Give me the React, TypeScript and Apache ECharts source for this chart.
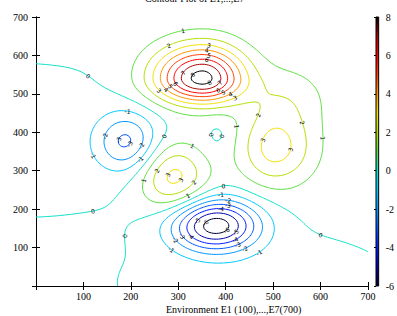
import { useEffect, useRef } from "react";
import * as echarts from "echarts";

// ---- axis / label data ----
const xTicks = [0, 100, 200, 300, 400, 500, 600, 700];
const yTicks = [0, 100, 200, 300, 400, 500, 600, 700];
const levels = [-6, -5, -4, -3, -2, -1, 0, 1, 2, 3, 4, 5, 6, 7, 8];
const colorbarTicks = [-6, -4, -2, 0, 2, 4, 6, 8];

// ---- colormap (value -> colour) ----
const cmapValues = [-6, -5, -4, -3, -2, -1, 0, 1, 2, 3, 4, 5, 6, 7, 8];
const cmapColors = [
  "#000030", "#0000a8", "#0018ff", "#0058ff", "#0094ff", "#00c8ff", "#10e0c8",
  "#5ce040", "#b4e000", "#f4e000", "#ff9400", "#ff3c00", "#ff0000", "#b00000", "#000000",
];

// ---- surface model: bumps (data units) ----
const baseLevel = 0.2;
const bumpX = [350, 503, 290, 191, 378, 530, -50, 500, 385];
const bumpY = [540, 357, 283, 375, 158, 490, 380, 0, 391];
const bumpAmp = [8.3, 3.2, 3.3, -3.1, -6.7, 1.3, -0.6, -0.65, -0.56];
const bumpSxL = [72, 53, 50, 45, 65, 60, 250, 210, 20];
const bumpSxR = [63, 60, 50, 45, 65, 60, 250, 170, 20];
const bumpSyB = [46, 68, 62, 54, 47, 60, 135, 90, 32];
const bumpSyT = [60, 68, 62, 54, 47, 60, 135, 90, 32];

const GRID_STEP = 5;

function field(x: number, y: number) {
  let v = baseLevel;
  for (let i = 0; i < bumpX.length; i++) {
    const dx = x - bumpX[i];
    const dy = y - bumpY[i];
    const sx = dx < 0 ? bumpSxL[i] : bumpSxR[i];
    const sy = dy < 0 ? bumpSyB[i] : bumpSyT[i];
    v += bumpAmp[i] * Math.exp(-0.5 * ((dx * dx) / (sx * sx) + (dy * dy) / (sy * sy)));
  }
  return v;
}

function hexToRgb(h: string) {
  const n = parseInt(h.slice(1), 16);
  return [(n >> 16) & 255, (n >> 8) & 255, n & 255];
}
function colorAt(v: number) {
  if (v <= cmapValues[0]) return cmapColors[0];
  for (let i = 0; i < cmapValues.length - 1; i++) {
    if (v <= cmapValues[i + 1]) {
      const t = (v - cmapValues[i]) / (cmapValues[i + 1] - cmapValues[i]);
      const a = hexToRgb(cmapColors[i]);
      const b = hexToRgb(cmapColors[i + 1]);
      const c = a.map((av, k) => Math.round(av + t * (b[k] - av)));
      return `rgb(${c[0]},${c[1]},${c[2]})`;
    }
  }
  return cmapColors[cmapColors.length - 1];
}

function contourLines(level: number) {
  const xmin = xTicks[0], xmax = xTicks[xTicks.length - 1];
  const ymin = yTicks[0], ymax = yTicks[yTicks.length - 1];
  const nx = Math.round((xmax - xmin) / GRID_STEP) + 1;
  const ny = Math.round((ymax - ymin) / GRID_STEP) + 1;
  const xs: number[] = [], ys: number[] = [];
  for (let i = 0; i < nx; i++) xs.push(xmin + i * GRID_STEP);
  for (let j = 0; j < ny; j++) ys.push(ymin + j * GRID_STEP);
  const g: number[][] = ys.map((y) => xs.map((x) => field(x, y)));
  const pts = new Map<string, [number, number]>();
  const segs: [string, string][] = [];
  const ep = (key: string, x1: number, y1: number, v1: number, x2: number, y2: number, v2: number) => {
    if (!pts.has(key)) {
      const t = (level - v1) / (v2 - v1);
      pts.set(key, [x1 + t * (x2 - x1), y1 + t * (y2 - y1)]);
    }
    return key;
  };
  for (let j = 0; j < ny - 1; j++) {
    for (let i = 0; i < nx - 1; i++) {
      const v0 = g[j][i], v1 = g[j][i + 1], v2 = g[j + 1][i + 1], v3 = g[j + 1][i];
      const idx = (v0 > level ? 1 : 0) | (v1 > level ? 2 : 0) | (v2 > level ? 4 : 0) | (v3 > level ? 8 : 0);
      if (idx === 0 || idx === 15) continue;
      const x0 = xs[i], x1 = xs[i + 1], y0 = ys[j], y1 = ys[j + 1];
      const B = () => ep(`h${i},${j}`, x0, y0, v0, x1, y0, v1);
      const R = () => ep(`v${i + 1},${j}`, x1, y0, v1, x1, y1, v2);
      const T = () => ep(`h${i},${j + 1}`, x0, y1, v3, x1, y1, v2);
      const L = () => ep(`v${i},${j}`, x0, y0, v0, x0, y1, v3);
      const center = (v0 + v1 + v2 + v3) / 4;
      switch (idx) {
        case 1: case 14: segs.push([L(), B()]); break;
        case 2: case 13: segs.push([B(), R()]); break;
        case 3: case 12: segs.push([L(), R()]); break;
        case 4: case 11: segs.push([R(), T()]); break;
        case 6: case 9: segs.push([B(), T()]); break;
        case 7: case 8: segs.push([L(), T()]); break;
        case 5:
          if (center > level) { segs.push([B(), R()]); segs.push([T(), L()]); }
          else { segs.push([L(), B()]); segs.push([R(), T()]); }
          break;
        case 10:
          if (center > level) { segs.push([L(), B()]); segs.push([R(), T()]); }
          else { segs.push([B(), R()]); segs.push([T(), L()]); }
          break;
      }
    }
  }
  const adj = new Map<string, number[]>();
  segs.forEach((s, k) => s.forEach((e) => { if (!adj.has(e)) adj.set(e, []); adj.get(e)!.push(k); }));
  const used = new Array(segs.length).fill(false);
  const follow = (start: string) => {
    const path = [start];
    let cur = start;
    for (;;) {
      const cand = (adj.get(cur) || []).find((s) => !used[s]);
      if (cand === undefined) break;
      used[cand] = true;
      const s = segs[cand];
      const nxt = s[0] === cur ? s[1] : s[0];
      path.push(nxt);
      cur = nxt;
    }
    return path.map((k) => pts.get(k)!);
  };
  const out: [number, number][][] = [];
  adj.forEach((arr, key) => { if (arr.length === 1 && !used[arr[0]]) out.push(follow(key)); });
  segs.forEach((s, k) => { if (!used[k]) out.push(follow(s[0])); });
  return out.filter((p) => p.length > 2);
}

const serif = "Liberation Serif";

export default function App() {
  const ref = useRef<HTMLDivElement>(null);
  useEffect(() => {
    if (!ref.current) return;
    const chart = echarts.init(ref.current, undefined, { renderer: "svg" });
    const lineSeries: any[] = [];
    const labelData: any[] = [];
    levels.forEach((lv) => {
      const lines = contourLines(lv);
      if (!lines.length) return;
      lineSeries.push({
        type: "lines",
        coordinateSystem: "cartesian2d",
        xAxisIndex: 0,
        yAxisIndex: 0,
        polyline: true,
        silent: true,
        data: lines.map((p) => ({ coords: p })),
        lineStyle: { color: colorAt(lv), width: 1, opacity: 1 },
        z: 2,
      });
      lines.forEach((p) => {
        const n = p.length;
        const fr = n < 20 ? [0.5] : n < 80 ? [0.25, 0.75] : [0.15, 0.5, 0.85];
        fr.forEach((f) => {
          const k = Math.min(n - 2, Math.max(0, Math.floor(n * f)));
          labelData.push([p[k][0], p[k][1], p[k + 1][0], p[k + 1][1], lv]);
        });
      });
    });
    const stops = cmapValues.map((v, i) => ({
      offset: (v - cmapValues[0]) / (cmapValues[cmapValues.length - 1] - cmapValues[0]),
      color: cmapColors[i],
    }));
    const axisText = { fontFamily: serif, fontSize: 10, color: "#000" };
    chart.setOption({
      animation: false,
      backgroundColor: "#fff",
      graphic: [
        {
          type: "text",
          x: 145,
          y: -7,
          style: { text: "Contour Plot of E1,...,E7", font: `10px "${serif}"`, fill: "#000", verticalAlign: "top" },
        },
        {
          type: "text",
          x: 166,
          y: 304,
          style: { text: "Environment E1 (100),...,E7(700)", font: `10px "${serif}"`, fill: "#000", verticalAlign: "top" },
        },
      ],
      grid: [
        { left: 36, top: 17, width: 332, height: 269 },
        { left: 376, top: 17, width: 5, height: 269 },
      ],
      xAxis: [
        {
          gridIndex: 0, type: "value", min: 0, max: 700, interval: 100,
          axisLine: { show: true, lineStyle: { color: "#000", width: 1 } },
          axisTick: { show: true, inside: true, length: 4, lineStyle: { color: "#000" } },
          axisLabel: { ...axisText, margin: 5, formatter: (v: number) => (v === 0 ? "" : String(v)) },
          splitLine: { show: false },
        },
        {
          gridIndex: 0, type: "value", min: 0, max: 700, interval: 100, position: "top",
          axisLine: { show: true, lineStyle: { color: "#000", width: 1 } },
          axisTick: { show: true, inside: true, length: 4, lineStyle: { color: "#000" } },
          axisLabel: { show: false }, splitLine: { show: false },
        },
        { gridIndex: 1, type: "value", min: 0, max: 1, show: false },
      ],
      yAxis: [
        {
          gridIndex: 0, type: "value", min: 0, max: 700, interval: 100,
          axisLine: { show: true, lineStyle: { color: "#000", width: 1 } },
          axisTick: { show: true, inside: true, length: 4, lineStyle: { color: "#000" } },
          axisLabel: { ...axisText, margin: 8, formatter: (v: number) => (v === 0 ? "" : String(v)) },
          splitLine: { show: false },
        },
        {
          gridIndex: 0, type: "value", min: 0, max: 700, interval: 100, position: "right",
          axisLine: { show: true, lineStyle: { color: "#000", width: 1 } },
          axisTick: { show: true, inside: true, length: 4, lineStyle: { color: "#000" } },
          axisLabel: { show: false }, splitLine: { show: false },
        },
        {
          gridIndex: 1, type: "value", min: colorbarTicks[0], max: colorbarTicks[colorbarTicks.length - 1],
          interval: 2, position: "right",
          axisLine: { show: false },
          axisTick: { show: true, inside: true, length: 2, lineStyle: { color: "#000" } },
          axisLabel: { ...axisText, margin: 7 },
          splitLine: { show: false },
        },
      ],
      series: [
        ...lineSeries,
        {
          type: "custom",
          xAxisIndex: 0,
          yAxisIndex: 0,
          silent: true,
          z: 5,
          data: labelData,
          renderItem: (_p: any, api: any) => {
            const a = api.coord([api.value(0), api.value(1)]);
            const b = api.coord([api.value(2), api.value(3)]);
            let ang = Math.atan2(b[1] - a[1], b[0] - a[0]);
            if (ang > Math.PI / 2) ang -= Math.PI;
            if (ang < -Math.PI / 2) ang += Math.PI;
            return {
              type: "text",
              x: a[0],
              y: a[1],
              rotation: -ang,
              style: {
                text: String(api.value(4)),
                fontSize: 6,
                fontFamily: "DejaVu Sans",
                fill: "#000",
                align: "center",
                verticalAlign: "middle",
              },
            };
          },
        },
        {
          type: "custom",
          xAxisIndex: 2,
          yAxisIndex: 2,
          silent: true,
          data: [[0, cmapValues[0], 1, cmapValues[cmapValues.length - 1]]],
          renderItem: (_p: any, api: any) => {
            const p0 = api.coord([api.value(0), api.value(1)]);
            const p1 = api.coord([api.value(2), api.value(3)]);
            return {
              type: "rect",
              shape: { x: p0[0], y: p1[1], width: p1[0] - p0[0], height: p0[1] - p1[1] },
              style: {
                fill: new echarts.graphic.LinearGradient(0, 1, 0, 0, stops),
                stroke: "#000",
                lineWidth: 1,
              },
            };
          },
        },
      ],
    });
    return () => chart.dispose();
  }, []);
  return (
    <div
      ref={ref}
      style={{ position: "fixed", left: 0, top: 0, width: 397, height: 316, background: "#fff" }}
    />
  );
}
